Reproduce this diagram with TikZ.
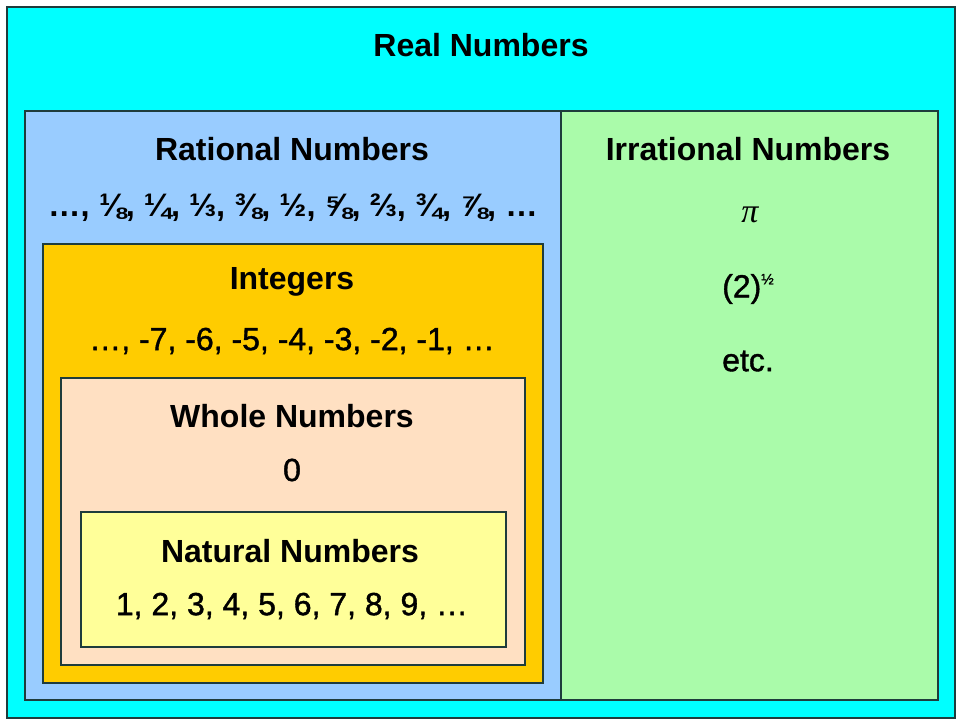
\documentclass[tikz,border=0pt]{standalone}
\usepackage{fontspec}
\setmainfont{Liberation Sans}
\newfontfamily\piserif{Liberation Serif}
\newfontfamily\heavysans[FakeBold=1.2]{Liberation Sans}
\definecolor{realc}{HTML}{00FFFF}
\definecolor{ratc}{HTML}{99CCFF}
\definecolor{irrc}{HTML}{AAFBAA}
\definecolor{intc}{HTML}{FFCC00}
\definecolor{wholec}{HTML}{FFE0C2}
\definecolor{natc}{HTML}{FFFF99}
\definecolor{edgec}{HTML}{1E3C3C}
\begin{document}
\begin{tikzpicture}[x=1pt,y=-1pt,
  setbox/.style={draw=edgec,line width=1.5pt,inner sep=0pt,anchor=north west},
  title/.style={font=\fontsize{32}{38}\selectfont\bfseries,inner sep=0pt,anchor=center},
  vals/.style={font=\fontsize{32}{38}\selectfont\heavysans,inner sep=0pt,anchor=center},
  bvals/.style={font=\fontsize{32.5}{38}\selectfont\bfseries,inner sep=0pt,anchor=center}]
\useasboundingbox (0,0) rectangle (960,720);
\fill[white] (0,0) rectangle (960,720);
\node[setbox,fill=realc,minimum width=948pt,minimum height=711pt] (real) at (6,6) {};
\node[setbox,fill=ratc,minimum width=536pt,minimum height=589pt] (rat) at (24,110) {};
\node[setbox,fill=irrc,minimum width=377pt,minimum height=589pt] (irr) at (560,110) {};
\node[setbox,fill=intc,minimum width=500pt,minimum height=439pt] (int) at (42,243) {};
\node[setbox,fill=wholec,minimum width=464pt,minimum height=287pt] (whole) at (60,377) {};
\node[setbox,fill=natc,minimum width=425pt,minimum height=135pt] (nat) at (80,511) {};

\node[title] (realt) at (481,45) {Real Numbers};
\node[title] (ratt) at (292,149) {Rational Numbers};
\node[bvals] (ratv) at (293,208) {…, ⅛, ¼, ⅓, ⅜, ½, ⅝, ⅔, ¾, ⅞, …};
\node[title] (irrt) at (748,149) {Irrational Numbers};
\node[vals,font=\fontsize{34}{38}\selectfont\piserif\itshape] (pi) at (750,215) {π};
\node[vals] (sqrt) at (748,289) {(2)\raisebox{13pt}{\fontsize{15}{16}\selectfont ½}};
\node[vals] (etc) at (748,361) {etc.};
\node[title] (intt) at (292,282) {Integers};
\node[vals] (intv) at (292,341) {…, -7, -6, -5, -4, -3, -2, -1, …};
\node[title] (wholet) at (292,416) {Whole Numbers};
\node[vals] (wholev) at (292,470) {0};
\node[title] (natt) at (290,551) {Natural Numbers};
\node[vals] (natv) at (292,606) {1, 2, 3, 4, 5, 6, 7, 8, 9, …};
\end{tikzpicture}
\end{document}
